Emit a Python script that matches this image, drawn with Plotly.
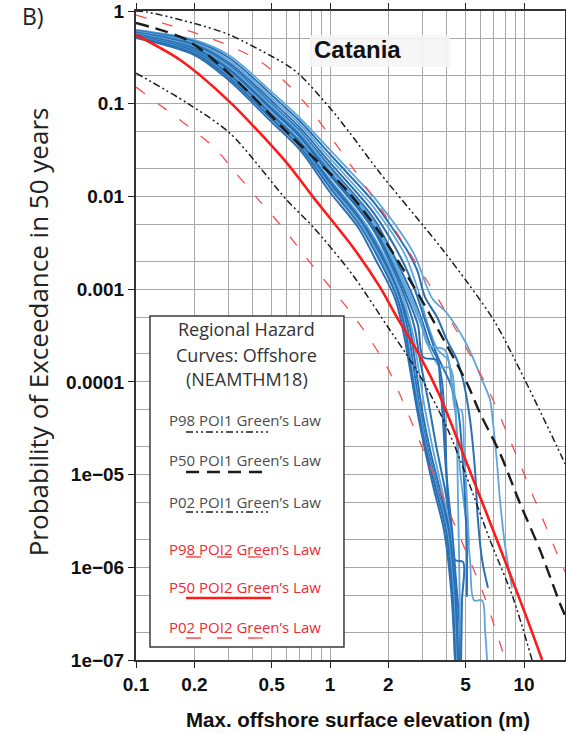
import plotly.graph_objects as go

# ---------------------------------------------------------------------------
# Axis ticks
# ---------------------------------------------------------------------------
x_tick_vals = [0.1, 0.2, 0.5, 1, 2, 5, 10]
x_tick_text = ["0.1", "0.2", "0.5", "1", "2", "5", "10"]
x_grid_minor = [0.3, 0.4, 0.6, 0.7, 0.8, 0.9, 3, 4, 6, 7, 8, 9]

y_tick_vals = [1e-7, 1e-6, 1e-5, 1e-4, 1e-3, 1e-2, 1e-1, 1]
y_tick_text = ["1e\u221207", "1e\u221206", "1e\u221205", "0.0001", "0.001", "0.01", "0.1", "1"]
y_grid_minor = [2e-7, 5e-7, 2e-6, 5e-6, 2e-5, 5e-5, 2e-4, 5e-4, 2e-3, 5e-3, 0.02, 0.05, 0.2, 0.5]

# ---------------------------------------------------------------------------
# Regional hazard curves (NEAMTHM18), offshore, Green's law
# ---------------------------------------------------------------------------
poi1_p98_x = [0.1, 0.114, 0.214, 0.305, 0.6, 0.7, 1.0, 1.27, 1.81, 3.01, 3.82, 5.14, 7.09, 10.1, 14.8, 16.3]
poi1_p98_y = [1.0, 0.975, 0.706, 0.551, 0.261, 0.204, 0.09, 0.048, 0.0179, 0.0049, 0.00264, 0.00116, 0.00044, 0.000105, 2.0e-5, 1.3e-5]

poi1_p50_x = [0.1, 0.183, 0.316, 0.607, 0.817, 1.22, 1.81, 2.91, 3.69, 5.08, 5.93, 7.52, 9.53, 12.1, 15.3, 16.3]
poi1_p50_y = [0.742, 0.487, 0.194, 0.0483, 0.0266, 0.0117, 0.00403, 0.00082, 0.000336, 9.7e-5, 4.6e-5, 1.7e-5, 4.9e-6, 1.53e-6, 4.1e-7, 3.0e-7]

poi1_p02_x = [0.1, 0.183, 0.305, 0.60, 0.817, 1.31, 2.04, 2.49, 3.16, 4.01, 5.02, 6.68, 8.78, 11.0]
poi1_p02_y = [0.214, 0.102, 0.048, 0.0091, 0.0047, 0.00142, 0.00036, 0.000195, 8.6e-5, 3.2e-5, 9.9e-6, 1.96e-6, 4.7e-7, 1.0e-7]

poi2_p98_x = [0.1, 0.216, 0.313, 0.426, 0.552, 0.743, 1.126, 2.11, 3.82, 6.45, 8.46, 11.1, 15.3, 16.3]
poi2_p98_y = [0.905, 0.551, 0.409, 0.296, 0.194, 0.102, 0.0317, 0.0047, 0.00064, 8.8e-5, 2.36e-5, 6.0e-6, 1.2e-6, 8.9e-7]

poi2_p50_x = [0.1, 0.169, 0.305, 0.60, 0.817, 1.31, 1.81, 2.21, 2.91, 3.69, 4.79, 7.26, 10.3, 12.4]
poi2_p50_y = [0.551, 0.296, 0.104, 0.0229, 0.0099, 0.00285, 0.00105, 0.00050, 0.00019, 7.0e-5, 1.8e-5, 1.96e-6, 2.9e-7, 1.0e-7]

poi2_p02_x = [0.1, 0.144, 0.197, 0.255, 0.324, 0.421, 0.573, 0.817, 1.05, 1.30, 1.63, 1.97, 2.30, 3.56, 4.68, 6.15, 7.80]
poi2_p02_y = [0.151, 0.0855, 0.052, 0.0333, 0.0183, 0.0096, 0.00456, 0.00177, 0.00093, 0.00054, 0.000275, 0.000144, 7.2e-5, 8.1e-6, 2.1e-6, 5.3e-7, 1.19e-7]

# ---------------------------------------------------------------------------
# Site-specific hazard curves for Catania (one per scenario ensemble)
# ---------------------------------------------------------------------------
sim01_x = [0.1, 0.2, 0.3, 0.5, 0.7, 1.0, 1.4, 1.7, 2.68, 3.36, 4.01, 5.08, 6.08, 6.68, 6.92, 7.26, 7.52, 7.98, 8.68]
sim01_y = [0.624, 0.487, 0.335, 0.134, 0.0701, 0.0317, 0.0150, 0.0096, 0.00251, 0.00080, 0.00055, 0.00025, 0.000105, 6.4e-5, 3.6e-5, 1.33e-5, 5.3e-6, 1.73e-6, 6.0e-7]

sim02_x = [0.1, 0.2, 0.3, 0.5, 0.7, 1.0, 1.4, 1.7, 2.49, 2.81, 3.09, 3.56, 4.01, 4.52, 4.85, 5.27, 5.59, 5.79, 6.08, 6.52]
sim02_y = [0.611, 0.469, 0.315, 0.124, 0.0647, 0.0285, 0.0133, 0.00842, 0.00264, 0.00161, 0.00082, 0.00050, 0.00028, 0.000172, 0.000105, 3.9e-5, 1.12e-5, 3.2e-6, 1.20e-6, 6.0e-7]

sim03_x = [0.1, 0.2, 0.3, 0.5, 0.7, 1.0, 1.4, 1.7, 2.44, 2.84, 3.20, 3.60, 4.06, 4.26, 4.46, 4.68, 5.02, 5.27, 5.53, 6.08, 6.30, 6.45]
sim03_y = [0.599, 0.452, 0.296, 0.115, 0.0598, 0.0257, 0.0118, 0.00737, 0.00233, 0.00098, 0.00041, 0.00022, 0.000172, 9.2e-5, 3.9e-5, 1.12e-5, 3.2e-6, 1.20e-6, 4.4e-7, 4.4e-7, 2.1e-7, 1.0e-7]

sim04_x = [0.1, 0.2, 0.3, 0.5, 0.7, 1.0, 1.4, 1.7, 2.35, 2.74, 3.09, 3.56, 4.16, 4.57, 4.79, 4.97, 5.08, 5.08]
sim04_y = [0.587, 0.435, 0.278, 0.107, 0.0552, 0.0232, 0.0105, 0.00641, 0.00206, 0.00098, 0.00046, 0.000195, 9.7e-5, 5.0e-5, 1.84e-5, 5.3e-6, 1.53e-6, 4.8e-7]

sim05_x = [0.1, 0.2, 0.3, 0.5, 0.7, 1.0, 1.4, 1.7, 2.59, 2.98, 3.28, 3.56, 3.78, 3.92, 4.01, 4.26, 4.46, 4.63, 4.68]
sim05_y = [0.576, 0.419, 0.262, 0.0993, 0.0510, 0.0209, 0.0093, 0.00555, 0.00098, 0.00046, 0.00025, 0.000181, 9.95e-5, 3.0e-5, 8.7e-6, 2.5e-6, 7.3e-7, 2.7e-7, 1.0e-7]

sim06_x = [0.1, 0.2, 0.3, 0.5, 0.7, 1.0, 1.4, 1.7, 2.52, 2.94, 3.20, 3.92, 4.26, 4.46, 4.74, 4.91, 5.08, 5.21]
sim06_y = [0.570, 0.411, 0.254, 0.0956, 0.0490, 0.0198, 0.0088, 0.00516, 0.00098, 0.00046, 0.00025, 0.00022, 8.2e-5, 5.0e-5, 5.0e-5, 1.84e-5, 5.3e-6, 1.73e-6]

sim07_x = [0.1, 0.2, 0.3, 0.5, 0.7, 1.0, 1.4, 1.7, 2.47, 2.91, 3.28, 3.69, 4.16, 4.41, 4.52, 4.57, 4.63, 4.68, 4.74]
sim07_y = [0.564, 0.404, 0.246, 0.0921, 0.0471, 0.0188, 0.0083, 0.00479, 0.00098, 0.00044, 0.00022, 0.000144, 0.000141, 6.4e-5, 1.84e-5, 5.3e-6, 1.20e-6, 2.7e-7, 1.0e-7]

sim08_x = [0.1, 0.2, 0.3, 0.5, 0.7, 1.0, 1.4, 1.7, 2.41, 2.84, 3.02, 3.56, 3.69, 3.82, 3.96, 4.16, 4.41, 4.85, 4.79, 4.74]
sim08_y = [0.559, 0.396, 0.238, 0.0887, 0.0453, 0.0178, 0.0078, 0.00445, 0.00098, 0.00041, 0.000185, 0.000172, 9.95e-5, 3.9e-5, 1.12e-5, 3.2e-6, 1.20e-6, 1.14e-6, 4.4e-7, 1.0e-7]

sim09_x = [0.1, 0.2, 0.3, 0.5, 0.7, 1.0, 1.4, 1.7, 2.35, 2.71, 2.91, 3.20, 3.52, 3.92, 4.21, 4.41, 4.52, 4.57]
sim09_y = [0.554, 0.389, 0.231, 0.0855, 0.0435, 0.0169, 0.0073, 0.00412, 0.00098, 0.00041, 0.000172, 6.4e-5, 2.08e-5, 6.8e-6, 2.5e-6, 7.3e-7, 2.7e-7, 1.0e-7]

sim10_x = [0.1, 0.2, 0.3, 0.5, 0.7, 1.0, 1.4, 1.7, 2.30, 2.65, 2.84, 3.09, 3.40, 3.78, 4.16, 4.36, 4.46, 4.52]
sim10_y = [0.543, 0.375, 0.217, 0.0794, 0.0402, 0.0153, 0.0065, 0.00353, 0.00098, 0.00036, 0.000152, 5.0e-5, 1.84e-5, 6.8e-6, 2.5e-6, 7.3e-7, 2.7e-7, 1.0e-7]

sim11_x = [0.1, 0.2, 0.3, 0.5, 0.7, 1.0, 1.4, 1.7, 2.24, 2.59, 2.78, 2.98, 3.28, 3.69, 4.11, 4.41, 4.57]
sim11_y = [0.537, 0.368, 0.210, 0.0765, 0.0386, 0.0145, 0.0061, 0.00326, 0.00098, 0.00036, 0.000134, 5.0e-5, 1.84e-5, 6.8e-6, 2.5e-6, 5.7e-7, 1.0e-7]

sim12_x = [0.1, 0.2, 0.3, 0.5, 0.7, 1.0, 1.4, 1.7, 2.22, 2.52, 2.71, 2.91, 3.20, 3.60, 4.06, 4.36, 4.52]
sim12_y = [0.532, 0.361, 0.204, 0.0737, 0.0371, 0.0137, 0.0058, 0.00301, 0.00098, 0.00036, 0.000134, 5.0e-5, 1.84e-5, 6.8e-6, 2.5e-6, 5.7e-7, 1.0e-7]

sim13_x = [0.1, 0.2, 0.3, 0.5, 0.7, 1.0, 1.4, 1.7, 2.19, 2.47, 2.65, 2.88, 3.16, 3.56, 4.01, 4.31, 4.46]
sim13_y = [0.527, 0.354, 0.198, 0.0710, 0.0357, 0.0130, 0.0055, 0.00278, 0.00093, 0.00036, 0.000134, 5.0e-5, 1.84e-5, 6.8e-6, 2.5e-6, 5.7e-7, 1.0e-7]

sim14_x = [0.1, 0.2, 0.3, 0.5, 0.7, 1.0, 1.4, 1.7, 2.19, 2.44, 2.62, 2.84, 3.13, 3.52, 3.96, 4.26, 4.41]
sim14_y = [0.522, 0.348, 0.192, 0.0684, 0.0343, 0.0124, 0.0051, 0.00256, 0.00086, 0.00036, 0.000134, 5.0e-5, 1.84e-5, 6.8e-6, 2.5e-6, 5.7e-7, 1.0e-7]

sim15_x = [0.1, 0.2, 0.3, 0.5, 0.7, 1.0, 1.4, 1.7, 2.16, 2.38, 2.59, 2.81, 3.09, 3.44, 3.87, 4.21, 4.41]
sim15_y = [0.511, 0.335, 0.180, 0.0635, 0.0317, 0.0111, 0.0046, 0.00217, 0.00080, 0.00036, 0.000134, 5.0e-5, 1.84e-5, 6.8e-6, 2.5e-6, 5.7e-7, 1.0e-7]

# shade of each site curve: light or dark blue
sim_shades = ["light", "dark", "light", "dark", "dark", "light", "light", "dark",
              "dark", "light", "dark", "dark", "light", "dark", "dark"]

# ---------------------------------------------------------------------------
# Styles
# ---------------------------------------------------------------------------
BLUE = {"dark": ("#2a70b4", 2.0), "light": ("#5ea5da", 1.8)}
BLACK = "#1c1c1c"
RED = "#ff1a1a"
RED_DASH = "#ff4a4a"
DASH_DOT_DOT = "7px,3px,2px,3px,2px,3px"
LONG_DASH = "13px,7px"
RED_DASHES = "11px,16px"

sim_curves = [
    (sim01_x, sim01_y), (sim02_x, sim02_y), (sim03_x, sim03_y), (sim04_x, sim04_y),
    (sim05_x, sim05_y), (sim06_x, sim06_y), (sim07_x, sim07_y), (sim08_x, sim08_y),
    (sim09_x, sim09_y), (sim10_x, sim10_y), (sim11_x, sim11_y), (sim12_x, sim12_y),
    (sim13_x, sim13_y), (sim14_x, sim14_y), (sim15_x, sim15_y),
]

fig = go.Figure()

for (xs, ys), shade in zip(sim_curves, sim_shades):
    color, width = BLUE[shade]
    fig.add_trace(go.Scatter(
        x=xs, y=ys, mode="lines",
        line=dict(color=color, width=width, shape="spline", smoothing=0.9),
        hoverinfo="skip",
    ))

regional = [
    (poi2_p98_x, poi2_p98_y, RED_DASH, 1.3, RED_DASHES),
    (poi2_p02_x, poi2_p02_y, RED_DASH, 1.3, RED_DASHES),
    (poi1_p98_x, poi1_p98_y, BLACK, 1.5, DASH_DOT_DOT),
    (poi1_p02_x, poi1_p02_y, BLACK, 1.5, DASH_DOT_DOT),
    (poi1_p50_x, poi1_p50_y, BLACK, 2.4, LONG_DASH),
    (poi2_p50_x, poi2_p50_y, RED, 2.6, "solid"),
]
for xs, ys, color, width, dash in regional:
    fig.add_trace(go.Scatter(
        x=xs, y=ys, mode="lines",
        line=dict(color=color, width=width, dash=dash, shape="spline", smoothing=0.8),
        hoverinfo="skip",
    ))

GRID = "#a8a8a8"
tick_font = dict(family="Liberation Sans, Arial, sans-serif", size=19, color="#111", weight="bold")

fig.update_xaxes(
    type="log", range=[-1, 1.2113], automargin=False,
    tickmode="array", tickvals=x_tick_vals, ticktext=x_tick_text,
    ticks="outside", ticklen=6, tickwidth=1.2, tickcolor="#222",
    showline=True, linecolor="#333", linewidth=2, mirror="ticks",
    showgrid=True, gridcolor=GRID, gridwidth=1,
    minor=dict(tickvals=x_grid_minor, showgrid=True, gridcolor=GRID, gridwidth=1, ticks=""),
    tickfont=tick_font, zeroline=False,
)
fig.update_yaxes(
    type="log", range=[-7, 0], automargin=False,
    tickmode="array", tickvals=y_tick_vals, ticktext=y_tick_text,
    ticks="outside", ticklen=6, tickwidth=1.2, tickcolor="#222",
    showline=True, linecolor="#333", linewidth=2, mirror="ticks",
    showgrid=True, gridcolor=GRID, gridwidth=1,
    minor=dict(tickvals=y_grid_minor, showgrid=True, gridcolor=GRID, gridwidth=1, ticks=""),
    tickfont=tick_font, zeroline=False,
)

# ---------------------------------------------------------------------------
# Legend panel drawn in paper coordinates
# ---------------------------------------------------------------------------
legend_entries = [
    ("P98 POI1 Green\u2019s Law", "#4d4d4d", BLACK, 1.5, DASH_DOT_DOT, 0.3698, 0.3513, 0.3077),
    ("P50 POI1 Green\u2019s Law", "#4d4d4d", BLACK, 2.4, "13px,8px", 0.3080, 0.2897, 0.3077),
    ("P02 POI1 Green\u2019s Law", "#4d4d4d", BLACK, 1.5, DASH_DOT_DOT, 0.2435, 0.2280, 0.3077),
    ("P98 POI2 Green\u2019s Law", "#ee2a35", RED_DASH, 1.3, "15px,16px", 0.1710, 0.1587, 0.3077),
    ("P50 POI2 Green\u2019s Law", "#ee2a35", RED, 2.4, "solid", 0.1125, 0.0955, 0.3147),
    ("P02 POI2 Green\u2019s Law", "#ee2a35", RED_DASH, 1.3, "15px,16px", 0.0508, 0.0339, 0.3077),
]

shapes = [
    # "Catania" label background
    dict(type="rect", xref="paper", yref="paper", x0=0.406, x1=0.732, y0=0.9137, y1=0.963,
         fillcolor="rgba(245,245,245,0.9)", line=dict(width=0), layer="above"),
    # legend frame
    dict(type="rect", xref="paper", yref="paper", x0=0.0326, x1=0.4848, y0=0.0200, y1=0.530,
         fillcolor="white", line=dict(color="#3a3a3a", width=1.5), layer="above"),
]
annotations = []
for label, tcolor, lcolor, lwidth, ldash, ty, ly, lx1 in legend_entries:
    shapes.append(dict(type="line", xref="paper", yref="paper", x0=0.1166, x1=lx1, y0=ly, y1=ly,
                       line=dict(color=lcolor, width=lwidth, dash=ldash), layer="above"))
    annotations.append(dict(text=label, xref="paper", yref="paper", x=0.0723, y=ty,
                            xanchor="left", yanchor="middle", showarrow=False,
                            font=dict(family="Open Sans, sans-serif", size=15, color=tcolor)))

for line_text, ty in [("Regional Hazard", 0.510), ("Curves: Offshore", 0.470), ("(NEAMTHM18)", 0.433)]:
    annotations.append(dict(text=line_text, xref="paper", yref="paper", x=0.2587, y=ty,
                            xanchor="center", yanchor="middle", showarrow=False,
                            font=dict(family="Open Sans, sans-serif", size=18, color="#333")))

annotations += [
    dict(text="Catania", xref="paper", yref="paper", x=0.5152, y=0.9414,
         xanchor="center", yanchor="middle", showarrow=False,
         font=dict(family="Liberation Sans, Arial, sans-serif", size=24, color="#111", weight="bold")),
    dict(text="B)", xref="paper", yref="paper", x=-0.2704, y=0.9923,
         xanchor="left", yanchor="middle", showarrow=False,
         font=dict(family="Open Sans, sans-serif", size=23, color="#222")),
    dict(text="Probability of Exceedance in 50 years", xref="paper", yref="paper",
         x=-0.2284, y=0.505, xanchor="center", yanchor="middle", textangle=-90, showarrow=False,
         font=dict(family="Open Sans, sans-serif", size=26, color="#222")),
    dict(text="Max. offshore surface elevation (m)", xref="paper", yref="paper",
         x=0.5175, y=-0.0924, xanchor="center", yanchor="middle", showarrow=False,
         font=dict(family="Liberation Sans, Arial, sans-serif", size=20.5, color="#111", weight="bold")),
]

fig.update_layout(
    width=566, height=734,
    margin=dict(l=136, r=1, t=11, b=74, autoexpand=False),
    plot_bgcolor="white", paper_bgcolor="white",
    showlegend=False,
    shapes=shapes, annotations=annotations,
)

fig.write_html("out.html")
